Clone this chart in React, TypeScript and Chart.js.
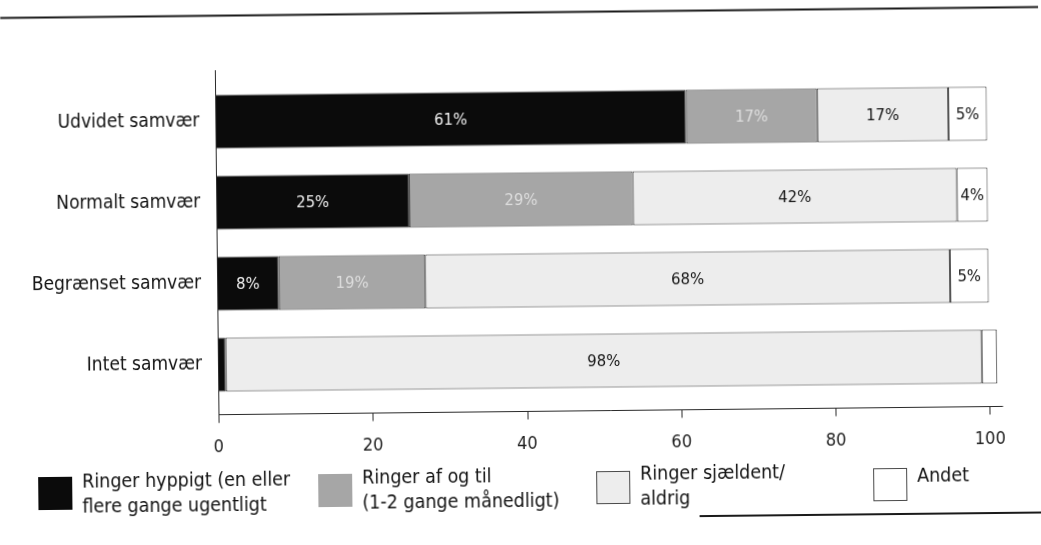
import React, { useEffect, useRef } from "react";
import { Chart, registerables } from "chart.js";

Chart.register(...registerables);

// ---- data ----
const categories = ["Udvidet samvær", "Normalt samvær", "Begrænset samvær", "Intet samvær"];
const seriesLabels = [
  ["Ringer hyppigt (en eller", "flere gange ugentligt"],
  ["Ringer af og til", "(1-2 gange månedligt)"],
  ["Ringer sjældent/", "aldrig"],
  ["Andet"],
];
const hyppigt = [61, 25, 8, 1];
const afOgTil = [17, 29, 19, 0];
const sjaeldent = [17, 42, 68, 98];
const andet = [5, 4, 5, 2];
const xTicks = [0, 20, 40, 60, 80, 100];

// ---- style ----
const FONT = '"DejaVu Sans Condensed", "DejaVu Sans", sans-serif';
const fills = ["#0b0b0b", "#a6a6a6", "#ededed", "#ffffff"];
const valueColors = ["#f0f0f0", "#dedede", "#151515", "#151515"];
const legendX = [36, 316, 594, 871];
const legendTextY = [483, 482, 481, 486];

const decorPlugin = {
  id: "decor",
  beforeDraw(chart: any) {
    const ctx = chart.ctx;
    ctx.save();
    ctx.fillStyle = "#ffffff";
    ctx.fillRect(0, 0, chart.width, chart.height);
    ctx.restore();
  },
  afterDatasetsDraw(chart: any) {
    const ctx = chart.ctx;
    const xs = chart.scales.x;
    const ca = chart.chartArea;
    ctx.save();

    // axes
    ctx.strokeStyle = "#2a2a2a";
    ctx.lineWidth = 1;
    const x0 = Math.round(xs.getPixelForValue(0)) + 0.5;
    const axisY = Math.round(ca.bottom + 9) + 0.5;
    ctx.beginPath();
    ctx.moveTo(x0, ca.top - 11);
    ctx.lineTo(x0, axisY + 8);
    ctx.stroke();
    ctx.beginPath();
    ctx.moveTo(x0, axisY);
    ctx.lineTo(ca.right, axisY);
    ctx.stroke();
    xTicks.forEach((t) => {
      const px = Math.round(xs.getPixelForValue(t)) + 0.5;
      ctx.beginPath();
      ctx.moveTo(px, axisY);
      ctx.lineTo(px, axisY + 8);
      ctx.stroke();
    });

    // value labels
    ctx.font = `16.5px ${FONT}`;
    ctx.textAlign = "center";
    ctx.textBaseline = "middle";
    chart.data.datasets.forEach((ds: any, i: number) => {
      const meta = chart.getDatasetMeta(i);
      meta.data.forEach((el: any, j: number) => {
        const v = ds.data[j];
        if (v < 3) return;
        const p = el.getCenterPoint();
        ctx.fillStyle = valueColors[i];
        ctx.fillText(`${v}%`, p.x, p.y + 1);
      });
    });

    // legend
    ctx.font = `19.5px ${FONT}`;
    ctx.textAlign = "left";
    ctx.textBaseline = "alphabetic";
    seriesLabels.forEach((lines, i) => {
      const bx = legendX[i];
      ctx.fillStyle = fills[i];
      ctx.fillRect(bx, 472, 34, 33);
      if (i >= 2) {
        ctx.strokeStyle = "#4a4a4a";
        ctx.lineWidth = 1;
        ctx.strokeRect(bx + 0.5, 472.5, 33, 32);
      }
      ctx.fillStyle = "#111";
      lines.forEach((ln, k) => {
        ctx.fillText(ln, bx + 44, legendTextY[i] + k * 25);
      });
    });

    // decorative rules
    ctx.strokeStyle = "#1a1a1a";
    ctx.lineWidth = 2;
    ctx.beginPath();
    ctx.moveTo(3, 12.5);
    ctx.lineTo(chart.width, 12.5);
    ctx.stroke();
    ctx.beginPath();
    ctx.moveTo(697, 518);
    ctx.lineTo(chart.width, 518);
    ctx.stroke();

    ctx.restore();
  },
};

export default function App() {
  const ref = useRef<HTMLCanvasElement>(null);

  useEffect(() => {
    document.body.style.margin = "0";
    document.body.style.background = "#ffffff";
    const seriesData = [hyppigt, afOgTil, sjaeldent, andet];
    const chart = new Chart(ref.current as HTMLCanvasElement, {
      type: "bar",
      data: {
        labels: categories,
        datasets: seriesData.map((d, i) => ({
          label: seriesLabels[i].join(" "),
          data: d,
          backgroundColor: fills[i],
          borderColor: "#333333",
          borderWidth: 1,
          borderSkipped: false,
          barPercentage: 0.667,
          categoryPercentage: 1,
        })),
      },
      options: {
        indexAxis: "y",
        responsive: false,
        animation: false,
        layout: { padding: { top: 78, right: 39.4, left: 0, bottom: 0 } },
        plugins: {
          legend: { display: false },
          tooltip: { enabled: false },
          title: { display: false },
        },
        scales: {
          x: {
            stacked: true,
            min: 0,
            max: 101.7,
            grid: { display: false, drawTicks: false },
            border: { display: false },
            ticks: {
              stepSize: 20,
              includeBounds: false,
              padding: 32,
              color: "#222",
              font: { family: FONT, size: 18 },
            },
            afterFit: (s: any) => {
              s.height = 143;
            },
          },
          y: {
            stacked: true,
            grid: { display: false, drawTicks: false },
            border: { display: false },
            ticks: {
              padding: 16,
              color: "#111",
              font: { family: FONT, size: 19 },
            },
            afterFit: (s: any) => {
              s.width = 217;
            },
          },
        },
      } as any,
      plugins: [decorPlugin],
    });
    return () => chart.destroy();
  }, []);

  return (
    <div
      style={{
        position: "fixed",
        left: 0,
        top: 0,
        width: 1041,
        height: 545,
        background: "#ffffff",
        transform: "rotate(-0.605deg)",
        transformOrigin: "520.5px 272.5px",
      }}
    >
      <canvas ref={ref} width={1041} height={545} style={{ display: "block" }} />
    </div>
  );
}
